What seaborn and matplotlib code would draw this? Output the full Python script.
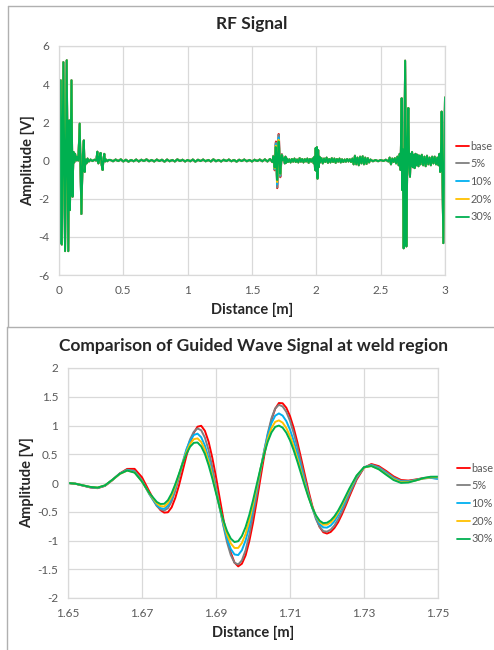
import numpy as np
import pandas as pd
import matplotlib
matplotlib.use('Agg')
import matplotlib.pyplot as plt
from matplotlib.lines import Line2D
import seaborn as sns

# --- Dados ---
series_names = ['base', '5%', '10%', '20%', '30%']
series_colors = ['#FF0000', '#7F7F7F', '#00B0F0', '#FFC000', '#00B050']

# sinal RF completo (fora da janela da solda 1.65-1.75 m)
rf_x = [0.000, 0.005, 0.013, 0.022, 0.034, 0.047, 0.060, 0.072, 0.079, 0.085,
        0.097, 0.105, 0.112, 0.118, 0.125, 0.132, 0.140, 0.150, 0.161, 0.174,
        0.184, 0.193, 0.199, 0.206, 0.214, 0.222, 0.232, 0.245, 0.260, 0.275,
        0.290, 0.298, 0.306, 0.313, 0.323, 0.331, 0.339, 0.346, 0.352, 0.358,
        0.365, 0.375, 0.385,
        0.40, 0.42, 0.44, 0.46, 0.48, 0.50, 0.52, 0.54, 0.56, 0.58,
        0.60, 0.62, 0.64, 0.66, 0.68, 0.70, 0.72, 0.74, 0.76, 0.78,
        0.80, 0.82, 0.84, 0.86, 0.88, 0.90, 0.92, 0.94, 0.96, 0.98,
        1.00, 1.02, 1.04, 1.06, 1.08, 1.10, 1.12, 1.14, 1.16, 1.18,
        1.20, 1.22, 1.24, 1.26, 1.28, 1.30, 1.32, 1.34, 1.36, 1.38,
        1.40, 1.42, 1.44, 1.46, 1.48, 1.50, 1.52, 1.54, 1.56, 1.58,
        1.60, 1.62, 1.64,
        1.755, 1.760, 1.765, 1.770, 1.780, 1.790, 1.800, 1.810, 1.820, 1.830,
        1.840, 1.850, 1.860, 1.870, 1.880, 1.890, 1.900, 1.910, 1.920, 1.930,
        1.940, 1.950, 1.960, 1.970, 1.980, 1.986, 1.990, 1.995, 2.000, 2.004,
        2.009, 2.014, 2.019, 2.024, 2.030, 2.040, 2.050, 2.060, 2.070, 2.080,
        2.090, 2.100, 2.110, 2.120, 2.130, 2.140, 2.150, 2.160, 2.170, 2.180,
        2.190, 2.200, 2.210, 2.220, 2.230, 2.240, 2.250, 2.260, 2.270, 2.280,
        2.290, 2.300, 2.310, 2.320, 2.330, 2.340, 2.350, 2.360, 2.370, 2.380,
        2.390, 2.400, 2.410, 2.420, 2.440, 2.460, 2.480, 2.500, 2.520, 2.540,
        2.560, 2.570, 2.580, 2.590, 2.600, 2.610, 2.620, 2.630, 2.640, 2.648,
        2.655, 2.663, 2.667, 2.671, 2.679, 2.690, 2.700, 2.708, 2.715, 2.722,
        2.728, 2.733, 2.738, 2.744, 2.750, 2.757, 2.764, 2.771, 2.778, 2.786,
        2.794, 2.802, 2.810, 2.820, 2.830, 2.840, 2.850, 2.860, 2.870, 2.880,
        2.890, 2.900, 2.910, 2.920, 2.930, 2.940, 2.950, 2.957, 2.963, 2.968,
        2.974, 2.987, 3.000]
rf_y = [0.5, -4.35, 4.2, -4.4, 5.15, -4.75, 5.25, -4.75, 2.1, -2.6,
        4.2, -1.9, 0.45, -0.1, 0.35, 0.0, 0.2, 0.0, 1.93, -2.8,
        0.2, 1.05, -0.6, 0.05, -0.15, 0.1, -0.05, 0.05, -0.03, 0.04,
        0.0, 0.46, -0.15, 0.1, 0.4, -0.2, -0.5, 0.1, 0.35, -0.05,
        0.05, -0.04, 0.03,
        0.03, -0.04, 0.05, -0.03, 0.06, -0.05, 0.04, -0.06, 0.03, -0.04,
        0.05, -0.05, 0.04, -0.03, 0.06, -0.04, 0.03, -0.05, 0.05, -0.03,
        0.04, -0.06, 0.05, -0.04, 0.03, -0.05, 0.06, -0.03, 0.04, -0.05,
        0.03, -0.04, 0.05, -0.06, 0.04, -0.03, 0.05, -0.04, 0.03, -0.05,
        0.06, -0.04, 0.03, -0.05, 0.04, -0.03, 0.05, -0.04, 0.03, -0.06,
        0.04, -0.03, 0.05, -0.04, 0.03, -0.05, 0.04, -0.03, 0.05, -0.04,
        0.06, -0.05, 0.08,
        -0.15, 0.2, -0.12, 0.1, -0.08, 0.06, -0.1, 0.08, -0.06, 0.1,
        -0.08, 0.05, -0.1, 0.12, -0.06, 0.08, -0.1, 0.07, -0.05, 0.1,
        -0.12, 0.08, -0.06, 0.1, -0.15, 0.2, -0.5, 0.65, -0.55, 0.7,
        -0.95, 0.55, -0.35, 0.2, -0.1, 0.12, -0.15, 0.1, -0.08, 0.15,
        -0.12, 0.08, -0.1, 0.12, -0.08, 0.1, -0.12, 0.08, -0.06, 0.1,
        -0.1, 0.06, -0.08, 0.05, -0.06, 0.08, -0.05, 0.06, -0.08, 0.1,
        -0.2, 0.25, -0.2, 0.15, -0.25, 0.2, -0.15, 0.22, -0.2, 0.15,
        -0.18, 0.12, -0.1, 0.05, -0.04, 0.03, -0.04, 0.03, -0.03, 0.04,
        -0.05, 0.15, -0.2, 0.1, -0.08, 0.12, -0.15, 0.2, -0.25, 0.35,
        -0.5, 3.26, -1.55, 0.6, -4.6, 5.23, -4.5, 0.8, 2.75, -0.4,
        -0.85, 0.35, -0.3, 0.45, -0.35, 0.3, -0.4, 0.35, -0.25, 0.3,
        -0.3, 0.25, -0.2, 0.3, -0.25, 0.2, -0.3, 0.25, -0.2, 0.15,
        -0.25, 0.2, -0.15, 0.2, -0.2, 0.15, -0.25, 0.35, -0.6, 0.2,
        2.56, -4.33, 3.3]

# janela da solda (1.65 - 1.75 m), leitura mais densa no centro
weld_x = [1.650, 1.652, 1.654, 1.656, 1.658, 1.660, 1.662, 1.664, 1.666, 1.668,
          1.670, 1.672, 1.674,
          1.675, 1.676, 1.677, 1.678, 1.679, 1.680, 1.681, 1.682, 1.683, 1.684,
          1.685, 1.686, 1.687, 1.688, 1.689, 1.690, 1.691, 1.692, 1.693, 1.694,
          1.695, 1.696, 1.697, 1.698, 1.699, 1.700, 1.701, 1.702, 1.703, 1.704,
          1.705, 1.706, 1.707, 1.708, 1.709, 1.710, 1.711, 1.712, 1.713, 1.714,
          1.715, 1.716, 1.717, 1.718, 1.719, 1.720, 1.721, 1.722, 1.723, 1.724, 1.725,
          1.726, 1.728, 1.730, 1.732, 1.734, 1.736, 1.738, 1.740, 1.742, 1.744,
          1.746, 1.748, 1.750]
weld_base = [0.0, -0.013, -0.045, -0.077, -0.09, -0.05, 0.05, 0.166, 0.245, 0.246,
             0.099, -0.15, -0.388,
             -0.472, -0.515, -0.509, -0.424, -0.26, -0.04, 0.214, 0.471, 0.696, 0.874,
             0.979, 0.995, 0.907, 0.718, 0.439, 0.106, -0.264, -0.627, -0.953, -1.212,
             -1.384, -1.45, -1.404, -1.259, -1.011, -0.692, -0.319, 0.075, 0.462, 0.81,
             1.101, 1.292, 1.391, 1.387, 1.309, 1.163, 0.958, 0.707, 0.431, 0.146,
             -0.137, -0.392, -0.597, -0.764, -0.857, -0.879, -0.851, -0.783, -0.683, -0.55, -0.401,
             -0.242, 0.058, 0.265, 0.33, 0.293, 0.209, 0.115, 0.052, 0.042, 0.061,
             0.083, 0.089, 0.08]
weld_5 = [0.0, -0.012, -0.043, -0.073, -0.085, -0.046, 0.055, 0.166, 0.233, 0.21,
          0.046, -0.193, -0.401,
          -0.459, -0.48, -0.439, -0.323, -0.137, 0.089, 0.331, 0.564, 0.761, 0.891,
          0.949, 0.917, 0.789, 0.571, 0.277, -0.06, -0.41, -0.747, -1.036, -1.254,
          -1.387, -1.417, -1.345, -1.17, -0.903, -0.558, -0.205, 0.184, 0.554, 0.868,
          1.126, 1.296, 1.36, 1.331, 1.238, 1.082, 0.869, 0.624, 0.352, 0.076,
          -0.187, -0.42, -0.625, -0.762, -0.837, -0.846, -0.811, -0.739, -0.632, -0.504, -0.356,
          -0.204, 0.079, 0.27, 0.319, 0.276, 0.19, 0.096, 0.038, 0.034, 0.057,
          0.087, 0.10, 0.10]
weld_10 = [0.0, -0.012, -0.043, -0.073, -0.085, -0.046, 0.053, 0.161, 0.225, 0.196,
           0.032, -0.196, -0.386,
           -0.437, -0.45, -0.394, -0.268, -0.082, 0.137, 0.365, 0.585, 0.736, 0.835,
           0.858, 0.796, 0.65, 0.432, 0.16, -0.136, -0.444, -0.73, -0.972, -1.148,
           -1.243, -1.253, -1.169, -0.998, -0.749, -0.445, -0.109, 0.232, 0.553, 0.84,
           1.042, 1.17, 1.21, 1.172, 1.077, 0.927, 0.734, 0.51, 0.265, 0.02,
           -0.217, -0.432, -0.593, -0.712, -0.772, -0.776, -0.739, -0.667, -0.562, -0.438, -0.3,
           -0.157, 0.103, 0.273, 0.307, 0.259, 0.17, 0.079, 0.025, 0.025, 0.049,
           0.078, 0.09, 0.07]
weld_20 = [0.0, -0.012, -0.04, -0.068, -0.08, -0.042, 0.054, 0.157, 0.216, 0.184,
           0.026, -0.185, -0.356,
           -0.401, -0.409, -0.35, -0.229, -0.057, 0.145, 0.349, 0.535, 0.679, 0.762,
           0.776, 0.713, 0.575, 0.369, 0.125, -0.153, -0.428, -0.685, -0.898, -1.05,
           -1.13, -1.129, -1.044, -0.884, -0.654, -0.377, -0.07, 0.234, 0.521, 0.769,
           0.956, 1.063, 1.089, 1.05, 0.957, 0.817, 0.635, 0.426, 0.202, -0.022,
           -0.237, -0.421, -0.573, -0.675, -0.725, -0.724, -0.685, -0.615, -0.514, -0.394, -0.262,
           -0.126, 0.121, 0.27, 0.296, 0.243, 0.153, 0.065, 0.013, 0.017, 0.045,
           0.079, 0.099, 0.10]
weld_30 = [0.0, -0.012, -0.04, -0.068, -0.08, -0.041, 0.057, 0.16, 0.217, 0.18,
           0.025, -0.176, -0.33,
           -0.365, -0.362, -0.3, -0.181, -0.02, 0.161, 0.344, 0.505, 0.631, 0.698,
           0.705, 0.637, 0.505, 0.31, 0.08, -0.174, -0.424, -0.654, -0.839, -0.967,
           -1.027, -1.012, -0.922, -0.766, -0.555, -0.303, -0.027, 0.247, 0.499, 0.72,
           0.88, 0.976, 0.999, 0.963, 0.874, 0.742, 0.568, 0.371, 0.16, -0.051,
           -0.25, -0.425, -0.561, -0.656, -0.698, -0.691, -0.65, -0.579, -0.481, -0.362, -0.233,
           -0.102, 0.13, 0.275, 0.295, 0.238, 0.143, 0.051, 0.002, 0.009, 0.044,
           0.085, 0.109, 0.11]
weld_series = [weld_base, weld_5, weld_10, weld_20, weld_30]

rf_xticks = [0, 0.5, 1, 1.5, 2, 2.5, 3]
rf_yticks = [-6, -4, -2, 0, 2, 4, 6]
weld_xticks = [1.65, 1.67, 1.69, 1.71, 1.73, 1.75]
weld_yticks = [-2, -1.5, -1, -0.5, 0, 0.5, 1, 1.5, 2]

# --- Montagem dos DataFrames ---
rf_x_arr = np.array(rf_x)
rf_y_arr = np.array(rf_y)
left = rf_x_arr < 1.65
right = rf_x_arr > 1.75

rows_rf = []
rows_weld = []
for name, wy in zip(series_names, weld_series):
    xs = np.concatenate([rf_x_arr[left], weld_x, rf_x_arr[right]])
    ys = np.concatenate([rf_y_arr[left], wy, rf_y_arr[right]])
    rows_rf.append(pd.DataFrame({'Distance': xs, 'Amplitude': ys, 'Series': name}))
    rows_weld.append(pd.DataFrame({'Distance': weld_x, 'Amplitude': wy, 'Series': name}))
df_rf = pd.concat(rows_rf, ignore_index=True)
df_weld = pd.concat(rows_weld, ignore_index=True)

# --- Estilo ---
sns.set_style('white')
plt.rcParams['font.family'] = ['Lato', 'DejaVu Sans']

W, H = 494, 650
fig = plt.figure(figsize=(W / 100, H / 100), dpi=100)

def box(l, t, r, b):
    return [l / W, 1 - b / H, (r - l) / W, (b - t) / H]

ax1 = fig.add_axes(box(59, 46, 445, 275))
ax2 = fig.add_axes(box(68, 368, 438, 598))

palette = dict(zip(series_names, series_colors))
grid_c = '#D9D9D9'
tick_c = '#595959'
label_c = '#262626'


def style_axes(ax, xticks, yticks, xlim, ylim, xlab, ylab, xlab_y, ylab_x):
    ax.set_xlim(*xlim)
    ax.set_ylim(*ylim)
    ax.set_xticks(xticks)
    ax.set_xticklabels([f'{v:g}' for v in xticks])
    ax.set_yticks(yticks)
    ax.set_yticklabels([f'{v:g}' for v in yticks])
    ax.grid(True, color=grid_c, lw=0.9)
    ax.set_axisbelow(True)
    for s in ax.spines.values():
        s.set_color(grid_c)
        s.set_linewidth(0.9)
    ax.tick_params(length=0, labelsize=8.5, labelcolor=tick_c, pad=7)
    ax.set_xlabel(xlab, fontsize=10.5, fontweight='bold', color=label_c, va='center')
    ax.set_ylabel(ylab, fontsize=10.5, fontweight='bold', color=label_c, va='center', ha='center')
    ax.xaxis.set_label_coords(0.5, xlab_y)
    ax.yaxis.set_label_coords(ylab_x, 0.5)


def legend_right(ax, x_px, yc_px):
    handles, labels = ax.get_legend_handles_labels()
    leg = ax.legend(handles, labels, loc='center left',
                    bbox_to_anchor=(x_px / W, 1 - yc_px / H),
                    bbox_transform=fig.transFigure, frameon=False,
                    fontsize=7.8, handlelength=1.2, handletextpad=0.1,
                    labelspacing=0.62, borderpad=0, borderaxespad=0)
    for t in leg.get_texts():
        t.set_color(tick_c)
    for h in leg.get_lines():
        h.set_linewidth(1.3)


# --- Grafico 1: sinal RF ---
sns.lineplot(data=df_rf, x='Distance', y='Amplitude', hue='Series',
             hue_order=series_names, palette=palette, estimator=None,
             sort=False, lw=1.4, ax=ax1)
style_axes(ax1, rf_xticks, rf_yticks, (0, 3), (-6, 6),
           'Distance [m]', 'Amplitude [V]', (275 - 310) / 229, (28 - 59) / 386)
legend_right(ax1, 456, 181.5)
fig.text(252 / W, 1 - 24 / H, 'RF Signal', ha='center', va='center',
         fontsize=12.5, fontweight='bold', color=label_c)

# --- Grafico 2: regiao da solda ---
sns.lineplot(data=df_weld, x='Distance', y='Amplitude', hue='Series',
             hue_order=series_names, palette=palette, estimator=None,
             sort=False, lw=1.4, solid_joinstyle='round', ax=ax2)
style_axes(ax2, weld_xticks, weld_yticks, (1.65, 1.75), (-2, 2),
           'Distance [m]', 'Amplitude [V]', (598 - 633) / 230, (27 - 68) / 370)
legend_right(ax2, 457, 503.5)
fig.text(253 / W, 1 - 346 / H, 'Comparison of Guided Wave Signal at weld region',
         ha='center', va='center', fontsize=12.5, fontweight='bold', color=label_c)

# --- Bordas dos quadros ---
bc = '#B0B0B0'
fig.add_artist(Line2D([8 / W, 1], [1 - 6 / H, 1 - 6 / H], color=bc, lw=1))
fig.add_artist(Line2D([8 / W, 8 / W], [1 - 6 / H, 1 - 327 / H], color=bc, lw=1))
fig.add_artist(Line2D([7 / W, 1], [1 - 327 / H, 1 - 327 / H], color=bc, lw=1))
fig.add_artist(Line2D([7 / W, 7 / W], [1 - 327 / H, 0], color=bc, lw=1))

fig.savefig('out.png', dpi=100)
